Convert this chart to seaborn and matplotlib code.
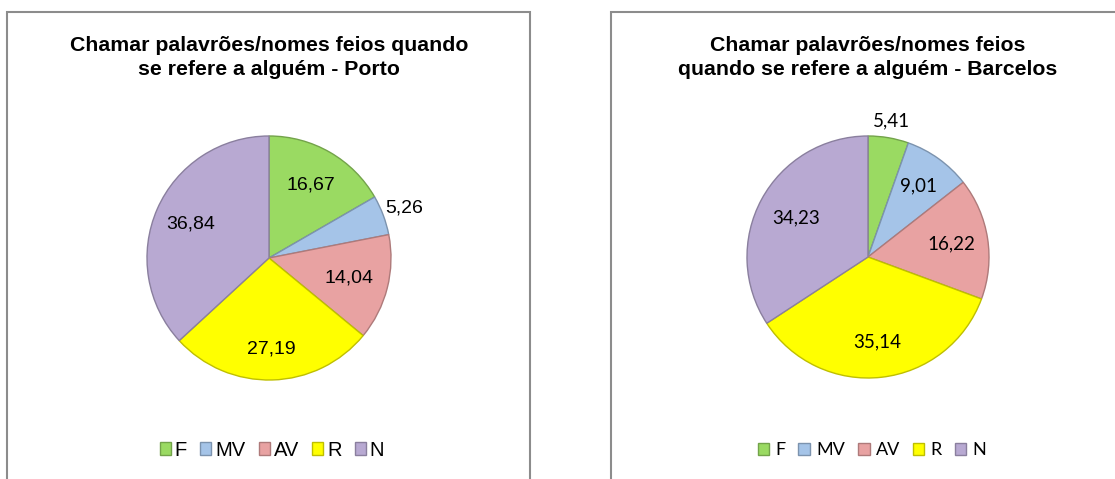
import numpy as np
import matplotlib
matplotlib.use("Agg")
import matplotlib.pyplot as plt
from matplotlib.patches import Rectangle
from matplotlib.font_manager import FontProperties
import seaborn as sns

categories = ["F", "MV", "AV", "R", "N"]
porto = [16.67, 5.26, 14.04, 27.19, 36.84]
barcelos = [5.41, 9.01, 16.22, 35.14, 34.23]
title_porto = "Chamar palavrões/nomes feios quando\nse refere a alguém - Porto"
title_barcelos = "Chamar palavrões/nomes feios\nquando se refere a alguém - Barcelos"

sns.set_style("white")
plt.rcParams['font.family'] = ['Liberation Sans', 'DejaVu Sans']
plt.rcParams['text.color'] = 'black'

colors = sns.color_palette(["#9ADA62", "#A5C4E8", "#E8A2A2", "#FFFF00", "#B8A9D2"])
edges = [tuple(c * 0.75 for c in col) for col in colors]

arial = FontProperties(family="Liberation Sans", size=14)
calibri = FontProperties(family="Lato", size=13.5)
title_font = FontProperties(family="Liberation Sans", size=15.3, weight="bold")

W, H = 1115, 479
fig = plt.figure(figsize=(W / 100, H / 100), dpi=100)
fig.patch.set_facecolor("white")


def px_axes(cx, cy, r):
    return fig.add_axes([(cx - r) / W, (H - cy - r) / H, 2 * r / W, 2 * r / H])


def draw_pie(ax, values, dists, font):
    wedges, _ = ax.pie(values, colors=colors, startangle=90, counterclock=False,
                       radius=1, wedgeprops=dict(linewidth=1.0))
    for w, e in zip(wedges, edges):
        w.set_edgecolor(e)
    for w, v, d in zip(wedges, values, dists):
        ang = np.deg2rad((w.theta1 + w.theta2) / 2)
        ax.text(d * np.cos(ang), d * np.sin(ang), f"{v:.2f}".replace(".", ","),
                ha="center", va="center", fontproperties=font, color="black")
    ax.set_xlim(-1, 1)
    ax.set_ylim(-1, 1)
    ax.set_aspect("equal")
    ax.axis("off")
    return wedges


# panel borders
fig.patches.append(Rectangle((7 / W, -0.05), (530 - 7) / W, (H - 12) / H + 0.05,
                             transform=fig.transFigure, fill=False,
                             edgecolor="#8c8c8c", linewidth=1.5))
fig.patches.append(Rectangle((611 / W, -0.05), 0.5, (H - 12) / H + 0.05,
                             transform=fig.transFigure, fill=False,
                             edgecolor="#8c8c8c", linewidth=1.5))

# Porto
ax1 = px_axes(269, 258, 122)
w1 = draw_pie(ax1, porto, [0.69, 1.18, 0.68, 0.75, 0.70], arial)
fig.text(269 / W, 1 - 57.5 / H, title_porto, ha="center", va="center",
         fontproperties=title_font, linespacing=1.32, color="black")
fig.legend(w1, categories, loc="center", bbox_to_anchor=(272 / W, 1 - 450 / H),
           ncol=5, frameon=False, handlelength=0.55, handleheight=0.6,
           handletextpad=0.2, columnspacing=0.65,
           prop=FontProperties(family="Liberation Sans", size=14.5))

# Barcelos
ax2 = px_axes(868, 257, 121)
w2 = draw_pie(ax2, barcelos, [1.14, 0.72, 0.70, 0.71, 0.68], calibri)
fig.text(868 / W, 1 - 57.5 / H, title_barcelos, ha="center", va="center",
         fontproperties=title_font, linespacing=1.32, color="black")
fig.legend(w2, categories, loc="center", bbox_to_anchor=(872 / W, 1 - 450 / H),
           ncol=5, frameon=False, handlelength=0.65, handleheight=0.65,
           handletextpad=0.35, columnspacing=0.7,
           prop=FontProperties(family="Lato", size=13))

fig.savefig("out.png", dpi=100)
